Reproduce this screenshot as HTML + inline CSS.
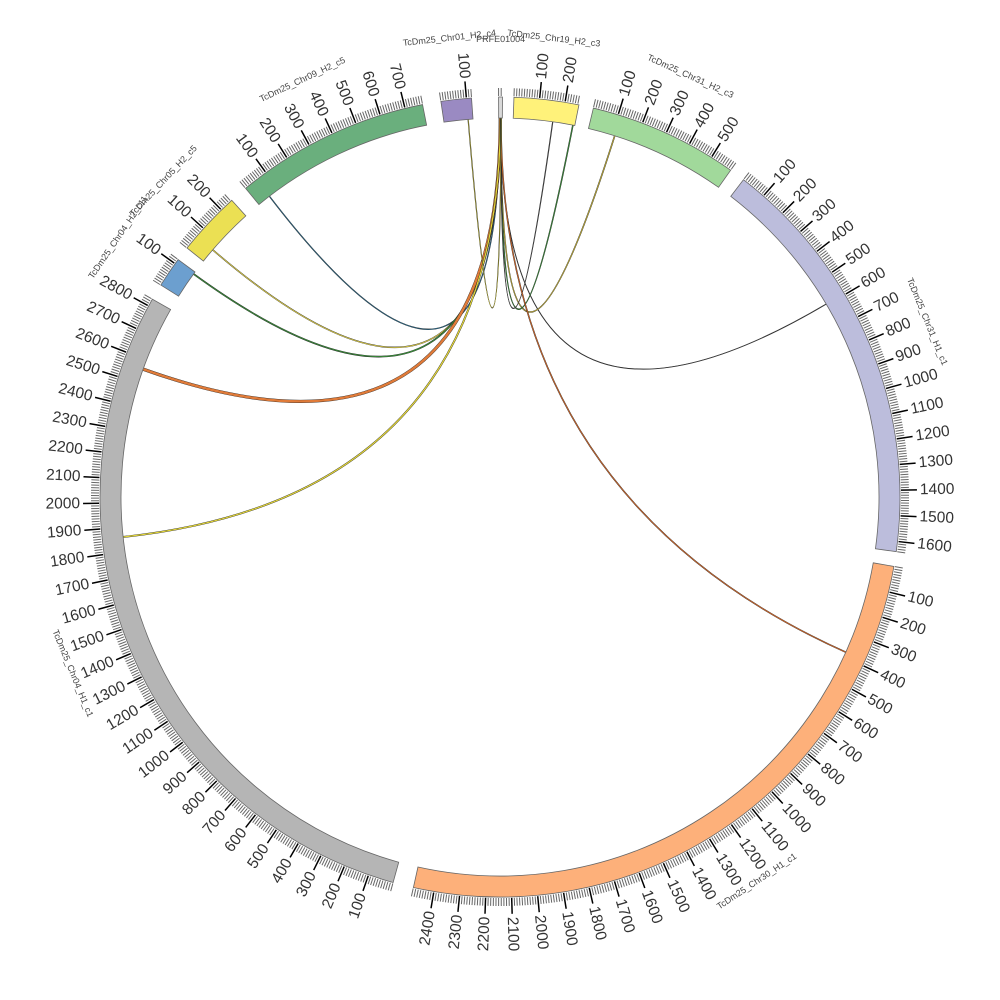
<!DOCTYPE html>
<html><head><meta charset="utf-8"><style>html,body{margin:0;background:#fff}svg{display:block}</style></head>
<body>
<svg id="s" width="1000" height="1000" viewBox="0 0 1000 1000" xmlns="http://www.w3.org/2000/svg" font-family="Liberation Sans, DejaVu Sans, sans-serif">
<rect width="1000" height="1000" fill="#fff"/>
<g id="links" fill="none"></g>
<g id="bars"></g>
<g id="ticks"></g>
<g id="labels" fill="#333" font-size="15.5"></g>
<g id="names" fill="#444" font-size="9"></g>
</svg>
<script>
const cx=500,cy=497,r0=379,r1=400,S=0.0368;
const segs=[
{n:'PRFE01004',a0:-0.2,len:15,c:'#d9d9d9'},
{n:'TcDm25_Chr19_H2_c3',a0:2,len:255,c:'#fff27a'},
{n:'TcDm25_Chr31_H2_c3',a0:13.5,len:590,c:'#a1d99b'},
{n:'TcDm25_Chr31_H1_c1',a0:37.5,len:1640,c:'#bcbddc'},
{n:'TcDm25_Chr30_H1_c1',a0:100,len:2480,c:'#fdb07a',s:0.0373},
{n:'TcDm25_Chr04_H1_c1',a0:195.5,len:2830,c:'#b5b5b5'},
{n:'TcDm25_Chr04_H2_c11',a0:302,len:120,c:'#6c9fcf'},
{n:'TcDm25_Chr05_H2_c5',a0:308.5,len:255,c:'#ebe053'},
{n:'TcDm25_Chr09_H2_c5',a0:320.5,len:770,c:'#6aaf7d'},
{n:'TcDm25_Chr01_H2_c4',a0:351.5,len:120,c:'#9a8ac2'}];
const R=Math.PI/180;
function P(a,r){return [cx+r*Math.sin(a*R),cy-r*Math.cos(a*R)];}
const NS='http://www.w3.org/2000/svg';
function el(p,t,at,txt){const e=document.createElementNS(NS,t);for(const k in at)e.setAttribute(k,at[k]);if(txt)e.textContent=txt;document.getElementById(p).appendChild(e);return e;}
segs.forEach(g=>{
 const s=g.s||S;g.s=s;
 const a1=g.a0+g.len*s;g.a1=a1;
 const A=P(g.a0,r0),B=P(g.a0,r1),C=P(a1,r1),D=P(a1,r0);const lg=(a1-g.a0)>180?1:0;
 el('bars','path',{d:`M${A}L${B}A${r1},${r1} 0 ${lg} 1 ${C}L${D}A${r0},${r0} 0 ${lg} 0 ${A}Z`,fill:g.c,stroke:'#666','stroke-width':0.8});
 for(let v=0;v<=g.len;v+=10){const a=g.a0+v*s;const maj=v%100==0&&v>0;
  const p1=P(a,r1+1),p2=P(a,r1+(maj?17:9));
  el('ticks','line',{x1:p1[0],y1:p1[1],x2:p2[0],y2:p2[1],stroke:maj?'#000':'#666','stroke-width':maj?1.5:1});
  if(maj){const q=P(a,r1+20);let rot,anc;
   if(a%360<180){rot=a-90;anc='start';}else{rot=a+90;anc='end';}
   el('labels','text',{x:q[0],y:q[1],transform:`rotate(${rot} ${q[0]} ${q[1]})`,'text-anchor':anc,'dominant-baseline':'central'},String(v));}
 }
 const am=(g.a0+a1)/2;const q=P(am,g.n=='PRFE01004'?458:462);const aa=((am%360)+360)%360;
 const rot=(aa>90&&aa<270)?aa-180:aa;
 el('names','text',{x:q[0],y:q[1],transform:`rotate(${rot} ${q[0]} ${q[1]})`,'text-anchor':'middle','dominant-baseline':'central'},g.n);
});
function ang(i,pos){return segs[i].a0+pos*segs[i].s;}
const L=[[8,55,'#2c6e8f',0.6],[7,60,'#e8d84a',0.8],[6,110,'#3a8a3a',1],[5,2560,'#e07b39',2.5],[5,1860,'#e6d93a',1.2],[3,595,'#555',0.3],[2,112,'#c8b43a',0.8],[1,247,'#3a8a3a',0.8],[1,163,'#555',0.5],[4,380,'#d96b2b',0.8],[9,100,'#c8c040',0.5]];
L.forEach(([i,pos,c,w],k)=>{
 const a=P(ang(0,5+k*0.5),r0),b=P(ang(i,pos),r0);
 const d=`M${a}Q${cx},${cy} ${b}`;
 el('links','path',{d,stroke:'#222','stroke-width':w+0.7});
 el('links','path',{d,stroke:c,'stroke-width':w});
});
</script>
</body></html>
